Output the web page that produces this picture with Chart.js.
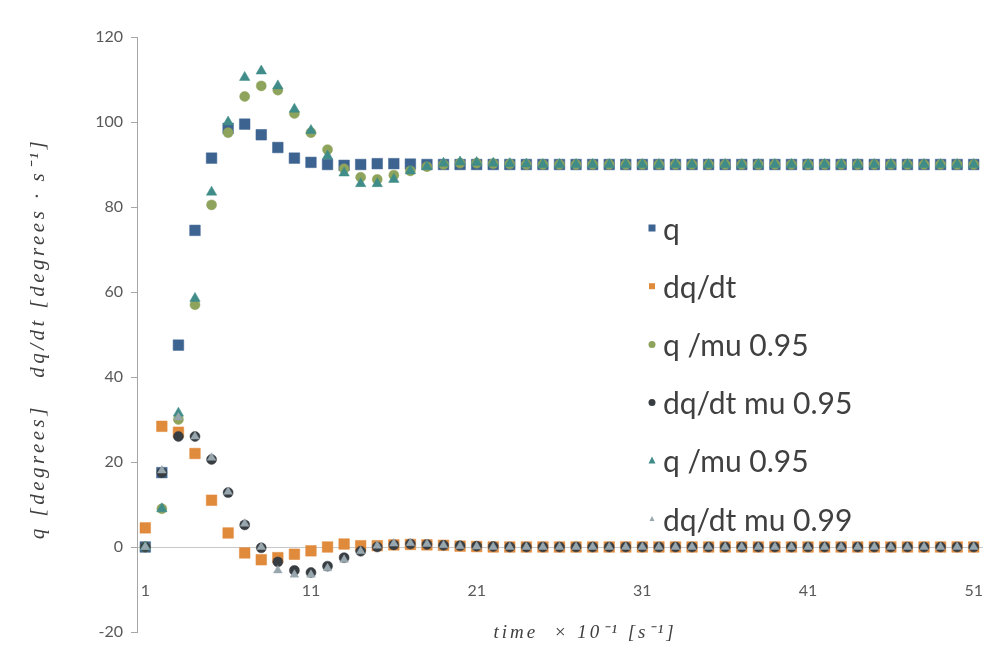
<!DOCTYPE html>
<html>
<head>
<meta charset="utf-8">
<script src="https://cdn.jsdelivr.net/npm/chart.js@4.4.0/dist/chart.umd.min.js"></script>
<style>
  html, body { margin: 0; padding: 0; background: #fff; }
  #wrap { width: 990px; height: 659px; position: relative; }
</style>
</head>
<body>
<div id="wrap"><canvas id="chart"></canvas></div>
<script>
// time steps (x 10^-1 s)
const timeLabels = [1, 2, 3, 4, 5, 6, 7, 8, 9, 10,
  11, 12, 13, 14, 15, 16, 17, 18, 19, 20,
  21, 22, 23, 24, 25, 26, 27, 28, 29, 30,
  31, 32, 33, 34, 35, 36, 37, 38, 39, 40,
  41, 42, 43, 44, 45, 46, 47, 48, 49, 50, 51];
const shownTicks = [1, 11, 21, 31, 41, 51];

const q = [0, 17.5, 47.5, 74.5, 91.5, 98.5, 99.5, 97, 94, 91.5,
  90.5, 90, 89.8, 90, 90.2, 90.2, 90.1, 90, 90, 90,
  90, 90, 90, 90, 90, 90, 90, 90, 90, 90,
  90, 90, 90, 90, 90, 90, 90, 90, 90, 90,
  90, 90, 90, 90, 90, 90, 90, 90, 90, 90, 90];
const dqdt = [4.5, 28.4, 27, 22, 11, 3.3, -1.4, -3, -2.5, -1.7,
  -0.9, 0, 0.7, 0.3, 0.3, 0.5, 0.6, 0.5, 0.4, 0.2,
  0.1, 0, 0, 0, 0, 0, 0, 0, 0, 0,
  0, 0, 0, 0, 0, 0, 0, 0, 0, 0,
  0, 0, 0, 0, 0, 0, 0, 0, 0, 0, 0];
const qMu95 = [0, 9, 30, 57, 80.5, 97.5, 106, 108.5, 107.5, 102,
  97.5, 93.5, 89, 87, 86.5, 87.5, 88.5, 89.5, 90, 90.3,
  90.3, 90.2, 90.1, 90, 90, 90, 90, 90, 90, 90,
  90, 90, 90, 90, 90, 90, 90, 90, 90, 90,
  90, 90, 90, 90, 90, 90, 90, 90, 90, 90, 90];
const dqdtMu95 = [0, 17.5, 26, 26, 20.6, 12.8, 5.2, -0.2, -3.5, -5.5,
  -6, -4.5, -2.5, -1, 0, 0.5, 0.7, 0.6, 0.4, 0.3,
  0.2, 0.1, 0, 0, 0, 0, 0, 0, 0, 0,
  0, 0, 0, 0, 0, 0, 0, 0, 0, 0,
  0, 0, 0, 0, 0, 0, 0, 0, 0, 0, 0];
const qMu95b = [0, 9, 31.5, 58.5, 83.5, 100, 110.5, 112, 108.5, 103,
  98, 92, 88, 85.5, 85.5, 86.5, 88.5, 89.5, 90.3, 90.6,
  90.5, 90.3, 90.2, 90.1, 90, 90, 90, 90, 90, 90,
  90, 90, 90, 90, 90, 90, 90, 90, 90, 90,
  90, 90, 90, 90, 90, 90, 90, 90, 90, 90, 90];
const dqdtMu99 = [0, 18, 30.5, 26, 21, 13, 5.5, 0, -5.5, -6.5,
  -6.5, -5, -3, -1, 0.3, 0.8, 0.9, 0.7, 0.4, 0.2,
  0.1, 0, 0, 0, 0, 0, 0, 0, 0, 0,
  0, 0, 0, 0, 0, 0, 0, 0, 0, 0,
  0, 0, 0, 0, 0, 0, 0, 0, 0, 0, 0];

const seriesNames = ['q', 'dq/dt', 'q /mu 0.95', 'dq/dt mu 0.95', 'q /mu 0.95', 'dq/dt mu 0.99'];
const xTitle = 'time  × 10⁻¹ [s⁻¹]';
const yTitle = 'q [degrees]   dq/dt [degrees · s⁻¹]';

function makeSet(i, values, color, style, radius, legendRadius){
    return {
        label: seriesNames[i],
        data: values,
        showLine: false,
        backgroundColor: color,
        borderColor: color,
        pointBackgroundColor: color,
        pointBorderColor: color,
        pointBorderWidth: 0.5,
        pointStyle: style,
        pointRadius: radius,
        pointHoverRadius: radius,
        legendRadius: legendRadius,
        order: 6 - i  // later series on top, like the spreadsheet
    };
}

// legend inside the plot area + the two axis titles
const extras = {
    id: 'extras',
    afterDatasetsDraw(chart){
        const ctx = chart.ctx;
        const area = chart.chartArea;
        ctx.save();
        ctx.font = '30px Lato';
        ctx.textBaseline = 'middle';
        chart.data.datasets.forEach(function(ds, i){
            const y = 228 + i * 58.2;
            const x = 652;
            const r = ds.legendRadius;
            ctx.fillStyle = ds.backgroundColor;
            ctx.beginPath();
            if(ds.pointStyle === 'rect'){
                ctx.rect(x - r, y - r, 2 * r, 2 * r);
            } else if(ds.pointStyle === 'triangle'){
                ctx.moveTo(x, y - r * 1.2);
                ctx.lineTo(x + r, y + r * 0.8);
                ctx.lineTo(x - r, y + r * 0.8);
                ctx.closePath();
            } else {
                ctx.arc(x, y, r, 0, Math.PI * 2);
            }
            ctx.fill();
            ctx.fillStyle = '#404040';
            ctx.fillText(ds.label, 663, y + 2);
        });

        // axis titles (spaced out like the equation font of the original)
        ctx.fillStyle = '#404040';
        ctx.textAlign = 'center';
        ctx.font = 'italic 19px "Liberation Serif"';
        if('letterSpacing' in ctx) ctx.letterSpacing = '3px';
        ctx.fillText(xTitle, 585, 633);

        ctx.translate(38, (area.top + area.bottom) / 2 + 4);
        ctx.rotate(-Math.PI / 2);
        ctx.font = 'italic 21px "Liberation Serif"';
        if('letterSpacing' in ctx) ctx.letterSpacing = '3.5px';
        ctx.fillText(yTitle, 0, 0);
        ctx.restore();
    }
};

function initChart(){
    const ctx = document.getElementById('chart').getContext('2d');
    new Chart(ctx, {
        type: 'line',
        data: {
            labels: timeLabels,
            datasets: [
                makeSet(0, q, '#3d6390', 'rect', 7.5, 3.5),
                makeSet(1, dqdt, '#e08a3c', 'rect', 7.5, 3),
                makeSet(2, qMu95, '#8ea35c', 'circle', 5, 3.5),
                makeSet(3, dqdtMu95, '#383d42', 'circle', 5, 3.5),
                makeSet(4, qMu95b, '#3f8c88', 'triangle', 6, 3.5),
                makeSet(5, dqdtMu99, '#98a6ae', 'triangle', 5, 2.5)
            ]
        },
        options: {
            responsive: false,
            animation: false,
            layout: { padding: { left: 0, top: 37, right: 6, bottom: 27 } },
            plugins: {
                legend: { display: false },
                tooltip: { enabled: false }
            },
            scales: {
                x: {
                    type: 'category',
                    position: { y: 0 },
                    offset: true,
                    grid: { display: true, drawOnChartArea: false, drawTicks: true, tickLength: 34, color: 'rgba(0,0,0,0)' },
                    border: { display: true, color: '#c8c8c8', width: 1 },
                    ticks: {
                        autoSkip: false,
                        maxRotation: 0,
                        padding: 0,
                        color: '#595959',
                        font: { family: 'Lato', size: 16 },
                        callback: function(value, index){
                            const lab = timeLabels[index];
                            return shownTicks.indexOf(lab) >= 0 ? String(lab) : null;
                        }
                    }
                },
                y: {
                    min: -20,
                    max: 120,
                    ticks: {
                        stepSize: 20,
                        padding: 8,
                        color: '#595959',
                        font: { family: 'Lato', size: 16 }
                    },
                    grid: { display: true, drawOnChartArea: false, drawTicks: true, tickLength: 6, color: '#a6a6a6' },
                    border: { display: true, color: '#a6a6a6', width: 1 },
                    afterFit: function(scale){
                        scale.width = 137;
                    }
                }
            }
        },
        plugins: [extras]
    });
}

const c = document.getElementById('chart');
c.width = 990;
c.height = 659;
initChart();
</script>
</body>
</html>
